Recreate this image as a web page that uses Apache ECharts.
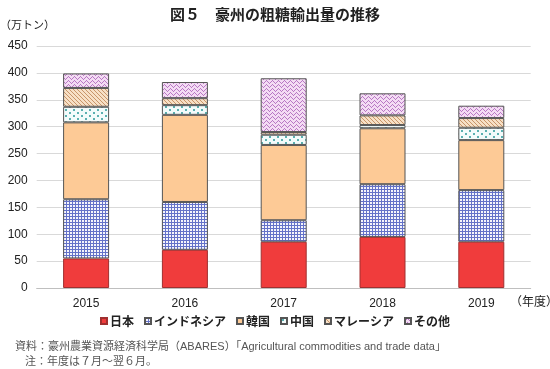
<!DOCTYPE html>
<html><head><meta charset="utf-8">
<script src="https://cdn.jsdelivr.net/npm/echarts@6/dist/echarts.min.js"></script>
<style>html,body{margin:0;padding:0;background:#fff}#c{width:550px;height:369px}</style>
</head><body><div id="c"></div>
<script>
const categories = ['2015','2016','2017','2018','2019'];
const seriesNames = ['日本','インドネシア','韓国','中国','マレーシア','その他'];
const japan     = [55, 71, 86, 95, 86];
const indonesia = [110, 89, 40, 98, 96];
const korea     = [143, 162, 140, 104, 93];
const china     = [29, 18, 19, 6, 23];
const malaysia  = [35, 13, 5, 18, 18];
const other     = [27, 30, 100, 41, 23];
const yTicks = {min: 0, max: 450, interval: 50};

function pat(w, h, draw) {
  const c = document.createElement('canvas');
  c.width = w; c.height = h;
  const g = c.getContext('2d');
  draw(g, w, h);
  return {image: c, repeat: 'repeat'};
}
function px(g, x, y, col) { g.fillStyle = col; g.fillRect(x, y, 1, 1); }

const fills = [
  '#f03c3c',
  pat(3, 3, (g) => { g.fillStyle = '#f4f4fb'; g.fillRect(0,0,3,3); g.fillStyle = '#6472c8'; g.fillRect(0,0,3,1); g.fillRect(0,0,1,3); }),
  '#fdca96',
  pat(8, 6, (g) => { g.fillStyle = '#f3fbfb'; g.fillRect(0,0,8,6); g.fillStyle = '#5ab0b0'; g.fillRect(1,1,2,2); g.fillRect(5,4,2,2); }),
  pat(4, 4, (g) => { g.fillStyle = '#f7e0c6'; g.fillRect(0,0,4,4); for (let i=0;i<4;i++){ px(g, i, i, '#c8956a'); } }),
  pat(6, 4, (g) => { g.fillStyle = '#f4dcf4'; g.fillRect(0,0,6,4); const col='#b878c4'; px(g,0,2,col);px(g,1,1,col);px(g,2,0,col);px(g,3,1,col);px(g,4,2,col);px(g,5,3,col); })
];
const borders = ['#a03030','#555','#555','#555','#555','#555'];
const dataSets = [japan, indonesia, korea, china, malaysia, other];

const chart = echarts.init(document.getElementById('c'), null, {renderer: 'canvas'});
const jp = '"Liberation Sans", "Noto Sans CJK JP", sans-serif';
const num = '"Liberation Sans", Arial, sans-serif';

chart.setOption({
  animation: false,
  title: {
    text: '図５　豪州の粗糖輸出量の推移',
    left: 'center', top: 2,
    textStyle: {fontFamily: '"Noto Sans CJK JP", sans-serif', fontSize: 15, fontWeight: 'bold', color: '#222'}
  },
  legend: {
    data: seriesNames,
    bottom: 37, left: 'center',
    icon: 'rect', itemWidth: 6, itemHeight: 6, itemGap: 10,
    textStyle: {fontFamily: '"Noto Sans CJK JP", sans-serif', fontSize: 12, fontWeight: 'bold', color: '#222', padding: [0,0,0,-2]}
  },
  grid: {left: 36.7, right: 19.3, top: 46, bottom: 81, containLabel: false},
  xAxis: {
    type: 'category', data: categories,
    axisLine: {lineStyle: {color: '#bfbfbf', width: 1}},
    axisTick: {show: false},
    axisLabel: {fontFamily: num, fontSize: 12, color: '#222', margin: 10}
  },
  yAxis: {
    type: 'value', min: yTicks.min, max: yTicks.max, interval: yTicks.interval,
    axisLine: {show: false}, axisTick: {show: false},
    splitLine: {lineStyle: {color: '#d9d9d9', width: 1}},
    axisLabel: {fontFamily: num, fontSize: 12, color: '#222', margin: 9}
  },
  series: seriesNames.map((n, i) => ({
    name: n, type: 'bar', stack: 'total', barWidth: 46,
    data: dataSets[i],
    itemStyle: {color: fills[i], borderColor: borders[i], borderWidth: 1}
  })),
  graphic: [
    {type: 'text', left: 0, top: 19, style: {text: '（万トン）', font: '11px "Noto Sans CJK JP"', fill: '#222'}},
    {type: 'text', left: 510, top: 295, style: {text: '（年度）', font: '12px "Noto Sans CJK JP"', fill: '#222'}},
    {type: 'text', left: 15, top: 341, style: {text: '資料：豪州農業資源経済科学局（ABARES）「Agricultural commodities and trade data」', font: '11px ' + jp, fill: '#555'}},
    {type: 'text', left: 25, top: 356, style: {text: '注：年度は７月～翌６月。', font: '11px ' + jp, fill: '#555'}}
  ]
});
</script></body></html>
